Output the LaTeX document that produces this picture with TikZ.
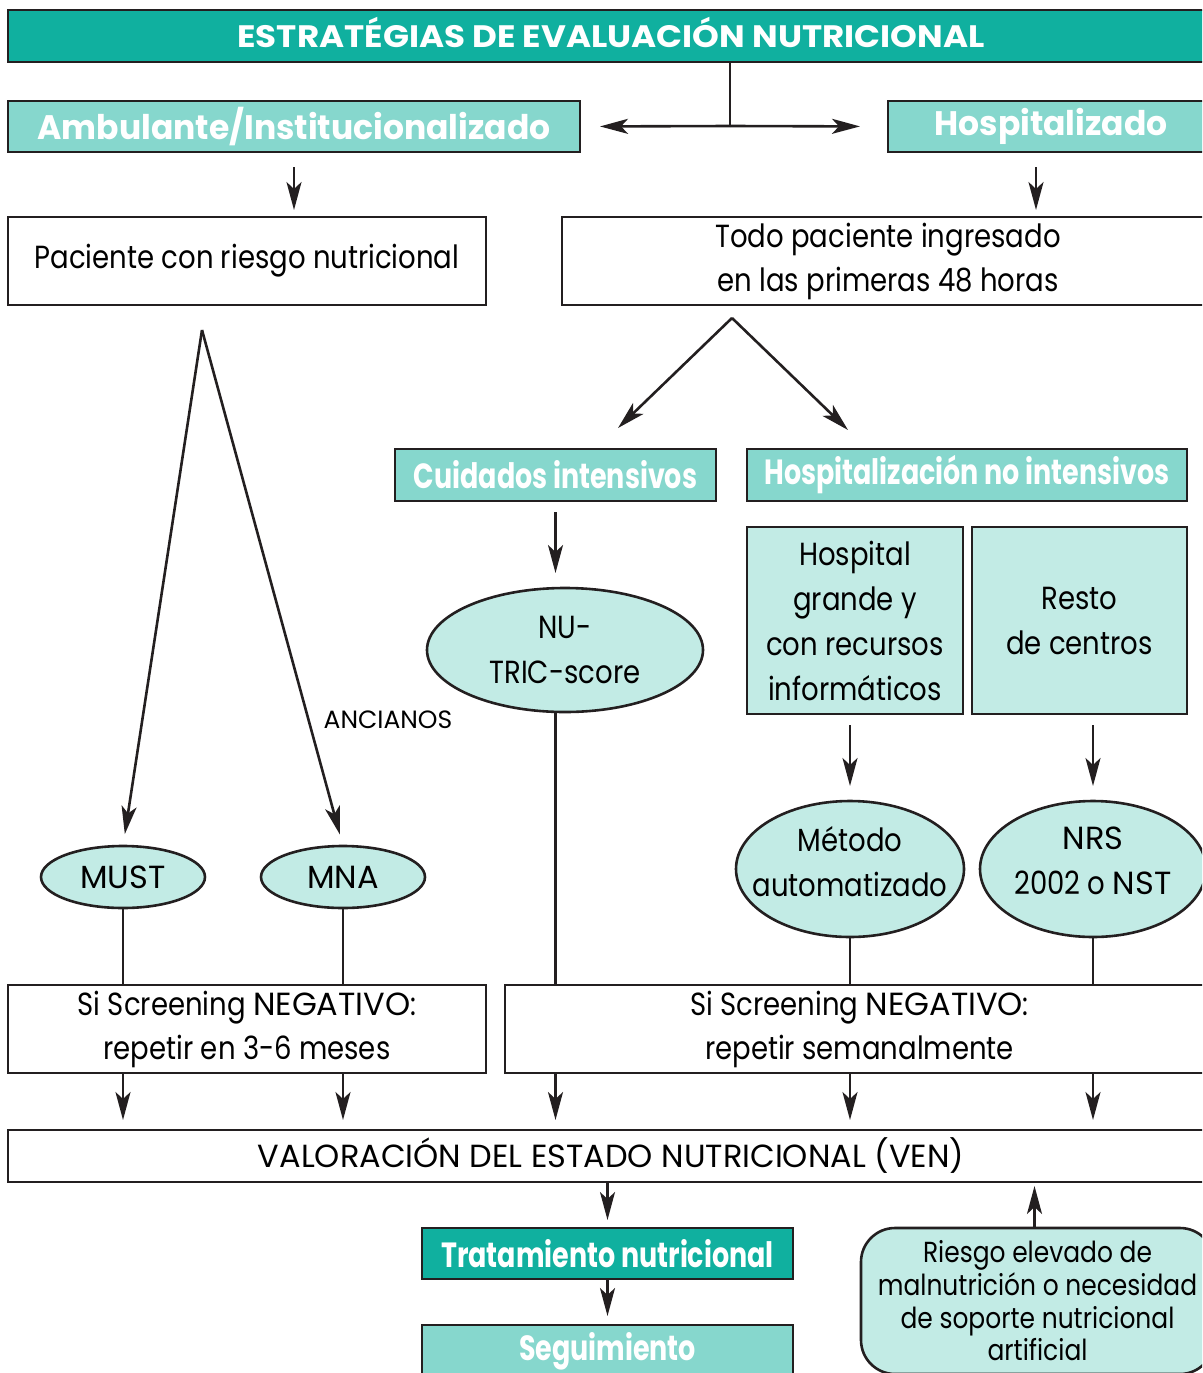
\documentclass[tikz,border=0pt]{standalone}
\usepackage{fontspec}
\setmainfont{Poppins}[FakeStretch=0.86]
\newfontfamily\capsr{Poppins}[FakeStretch=1.0]
\newfontfamily\titlef{Poppins}[FakeStretch=1.1]
\newfontfamily\wideb{Poppins}[FakeStretch=0.97]
\newfontfamily\condb{Poppins}[FakeStretch=0.77]
\newfontfamily\condr{Poppins}[FakeStretch=0.86]
\usetikzlibrary{arrows.meta,shapes.geometric}
\definecolor{dark}{HTML}{10B09F}
\definecolor{mid}{HTML}{86D7CD}
\definecolor{light}{HTML}{C2EBE5}
\definecolor{ln}{HTML}{231F20}
\tikzset{
  base/.style={draw=ln, line width=2.6pt, inner sep=0pt, outer sep=0pt, align=center},
  rbox/.style={base, rectangle, fill=white, font=\fontsize{32}{44}\selectfont},
  titlebox/.style={base, rectangle, fill=dark, text=white, font=\titlef\bfseries\fontsize{31}{36}\selectfont},
  widebox/.style={base, rectangle, fill=mid, text=white, font=\wideb\bfseries\fontsize{34}{40}\selectfont},
  condbox/.style={base, rectangle, fill=mid, text=white, font=\condb\bfseries\fontsize{35}{40}\selectfont},
  lightbox/.style={base, rectangle, fill=light, font=\fontsize{32}{45}\selectfont},
  oval/.style={base, ellipse, fill=light, font=\fontsize{32}{45}\selectfont},
  arr/.style={draw=ln, line width=2.6pt, -{Stealth[length=28pt,width=15pt,inset=7pt]}},
  conn/.style={draw=ln, line width=2.6pt},
}
\begin{document}
\begin{tikzpicture}[x=1pt,y=-1pt]
\useasboundingbox (0,0) rectangle (1202,1373);
\clip (0,0) rectangle (1202,1373);

% header
\node[titlebox, minimum width=1206, minimum height=52, text height=22pt, text depth=0pt] (title) at (611,36) {ESTRATÉGIAS DE EVALUACIÓN NUTRICIONAL};
\node[widebox, minimum width=572, minimum height=51] (amb) at (294,126.5) {Ambulante/Institucionalizado};
\node[widebox, minimum width=326, minimum height=51] (hosp) at (1051,126.5) {Hospitalizado};
\coordinate (split) at (730,126);
\draw[conn] (title.south -| split) -- (split);
\draw[arr, shorten >=20pt] (split) -- (amb.east);
\draw[arr, shorten >=28pt] (split) -- (hosp.west);

% second row
\node[rbox, minimum width=478, minimum height=88] (pac) at (247,261) {Paciente con riesgo nutricional};
\node[rbox, minimum width=652, minimum height=88] (todo) at (888,261) {Todo paciente ingresado\\en las primeras 48 horas};
\draw[arr, shorten <=15pt, shorten >=7pt] (amb.south) -- (amb.south |- pac.north);
\draw[arr, shorten <=15pt, shorten >=7pt] ([xshift=-15pt]hosp.south) -- ([xshift=-15pt]hosp.south |- pac.north);

% hospital branches
\node[condbox, minimum width=321, minimum height=52] (cuid) at (555.5,475) {Cuidados intensivos};
\node[condbox, minimum width=440, minimum height=52] (hni) at (967,475) {Hospitalización no intensivos};
\coordinate (todoB) at (732,318);
\coordinate (cuT) at (618,428);
\coordinate (hniT) at (848,430);
\draw[arr] (todoB) -- (cuT);
\draw[arr] (todoB) -- (hniT);

\node[oval, minimum width=276, minimum height=124] (nutric) at (565,650) {NU-\\TRIC-score};
\draw[arr, shorten <=11pt, shorten >=15pt] (cuid.south) -- (cuid.south |- nutric.north);

\node[lightbox, minimum width=216, minimum height=187] (hgr) at (855,620.5) {Hospital\\grande y\\con recursos\\informáticos};
\node[lightbox, minimum width=215, minimum height=187] (resto) at (1079.5,620.5) {Resto\\de centros};

\node[oval, minimum width=228, minimum height=136, text depth=16pt, inner xsep=-40pt, inner ysep=-10pt] (metodo) at (850,869) {Método\\automatizado};
\node[oval, minimum width=226, minimum height=136, text depth=16pt, inner xsep=-40pt, inner ysep=-10pt] (nrs) at (1093,869) {{\capsr NRS}\\2002 o {\capsr NST}};
\draw[arr, shorten <=11pt, shorten >=15pt] (metodo.north |- hgr.south) -- (metodo.north);
\draw[arr, shorten <=11pt, shorten >=15pt] (nrs.north |- resto.south) -- (nrs.north);

% left branch
\node[oval, minimum width=164, minimum height=62, font=\capsr\fontsize{32}{40}\selectfont] (must) at (123,877) {MUST};
\node[oval, minimum width=164, minimum height=62, font=\capsr\fontsize{32}{40}\selectfont] (mna) at (343,877) {MNA};
\coordinate (pacB) at (202,330);
\draw[arr, shorten >=12pt] (pacB) -- (must.north);
\draw[arr, shorten >=12pt] (pacB) -- (mna.north);
\node[font=\capsr\fontsize{25}{30}\selectfont, inner sep=0pt] (anc) at (388,720) {ANCIANOS};

% screening boxes
\node[rbox, minimum width=478, minimum height=88] (scl) at (247,1029) {Si Screening {\capsr NEGATIVO}:\\repetir en 3-6 meses};
\node[rbox, minimum width=709, minimum height=88] (scr) at (859.5,1029) {Si Screening {\capsr NEGATIVO}:\\repetir semanalmente};
\draw[conn] (must.south) -- (must.south |- scl.north);
\draw[conn] (mna.south) -- (mna.south |- scl.north);
\draw[conn] (cuid.south |- nutric.south) -- (cuid.south |- scr.north);
\draw[conn] (metodo.south) -- (metodo.south |- scr.north);
\draw[conn] (nrs.south) -- (nrs.south |- scr.north);

% VEN
\node[rbox, minimum width=1206, minimum height=52, font=\capsr\fontsize{32}{40}\selectfont] (ven) at (611,1156) {VALORACIÓN DEL ESTADO NUTRICIONAL (VEN)};
\draw[arr, shorten >=10pt] (must.south |- scl.south) -- (must.south |- ven.north);
\draw[arr, shorten >=10pt] (mna.south |- scl.south) -- (mna.south |- ven.north);
\draw[arr, shorten >=10pt] (cuid.south |- scr.south) -- (cuid.south |- ven.north);
\draw[arr, shorten >=10pt] (metodo.south |- scr.south) -- (metodo.south |- ven.north);
\draw[arr, shorten >=10pt] (nrs.south |- scr.south) -- (nrs.south |- ven.north);

% bottom
\node[condbox, fill=dark, minimum width=371, minimum height=51] (trat) at (607.5,1253.5) {Tratamiento nutricional};
\node[condbox, minimum width=371, minimum height=52] (seg) at (607.5,1351) {Seguimiento};
\draw[arr, shorten >=8pt] (trat.north |- ven.south) -- (trat.north);
\draw[arr, shorten >=9pt] (trat.south) -- (seg.north);

\node[base, rectangle, rounded corners=34pt, fill=light, minimum width=353, minimum height=146,
      font=\condr\fontsize{29}{32.7}\selectfont] (riesgo) at (1037.5,1301)
      {Riesgo elevado de\\malnutrición o necesidad\\de soporte nutricional\\artificial};
\draw[arr, shorten >=4pt] ([xshift=-3pt]riesgo.north) -- ([xshift=-3pt]riesgo.north |- ven.south);
\end{tikzpicture}
\end{document}
